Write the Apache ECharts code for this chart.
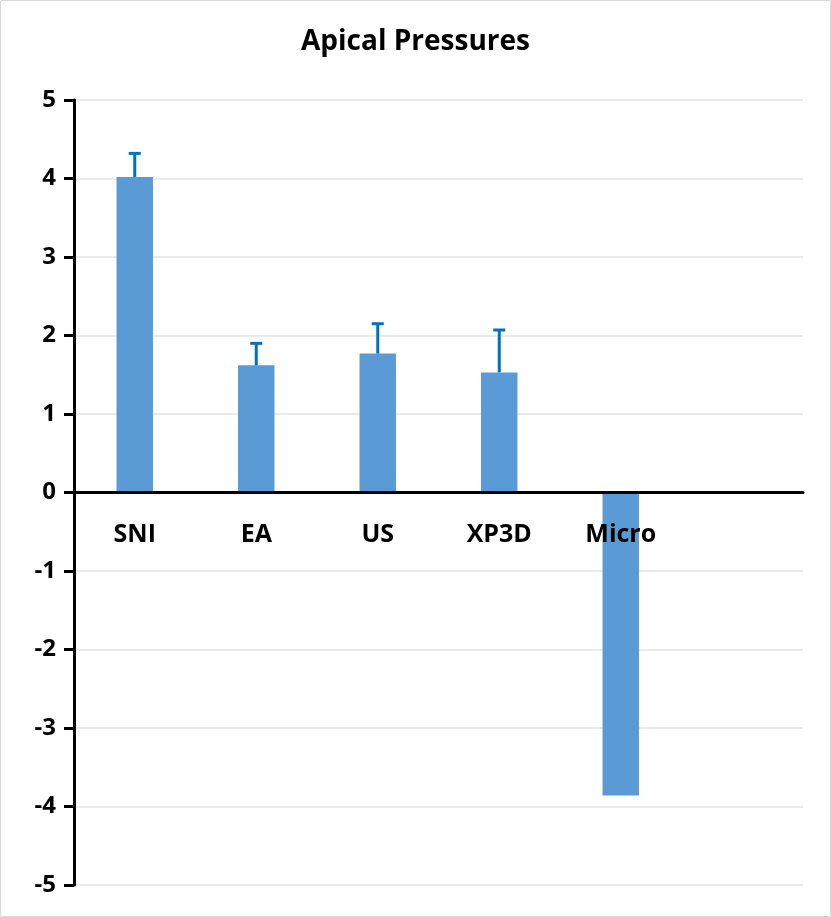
<!DOCTYPE html>
<html><head><meta charset="utf-8">
<script src="https://cdn.jsdelivr.net/npm/echarts@6/dist/echarts.min.js"></script>
<style>html,body{margin:0;padding:0;background:#fff}#c{position:absolute;left:0;top:0;width:829px;height:915px;border:1px solid #d9d9d9;border-radius:2px}</style>
</head><body><div id="c"></div>
<script>
const categories = ['SNI','EA','US','XP3D','Micro',''];
const values = [4.02, 1.62, 1.77, 1.53, -3.86, null];
const errorsUp = [0.30, 0.28, 0.38, 0.54, null, null];
const yTicks = [-5,-4,-3,-2,-1,0,1,2,3,4,5];

const chart = echarts.init(document.getElementById('c'));
const errData = categories.map((c,i)=>[i, values[i], errorsUp[i]]).filter(d=>d[1]!=null && d[2]!=null);
const font = '"Open Sans", sans-serif';
const gridTop = 99, gridBottom = 31, H = 915;
const plotH = H - gridTop - gridBottom;
const yMin = yTicks[0], yMax = yTicks[yTicks.length-1];
const zeroFromBottom = plotH * (0 - yMin) / (yMax - yMin);
chart.setOption({
  animation:false,
  title:{text:'Apical Pressures',left:'center',top:22,textStyle:{fontFamily:font,fontWeight:'bold',fontSize:28,color:'#000'}},
  grid:{left:73,right:27,top:gridTop,bottom:gridBottom,containLabel:false,outerBoundsMode:'none'},
  xAxis:[{type:'category',data:categories,position:'bottom',offset:-zeroFromBottom,z:10,
    axisLine:{onZero:false,lineStyle:{color:'#000',width:3}},
    axisTick:{show:false},
    axisLabel:{margin:30,fontFamily:font,fontWeight:'bold',fontSize:25,color:'#000'}}],
  yAxis:{type:'value',min:yMin,max:yMax,interval:1,
    axisLine:{show:true,lineStyle:{color:'#000',width:3}},
    axisTick:{show:true,length:10,lineStyle:{color:'#000',width:3}},
    splitLine:{lineStyle:{color:'#e3e3e3',width:1.5}},
    axisLabel:{margin:18,fontFamily:font,fontWeight:'bold',fontSize:24,color:'#000'}},
  series:[
    {type:'bar',data:values,barWidth:'30%',itemStyle:{color:'#5B9BD5'},z:2},
    {type:'custom',data:errData,z:3,
     renderItem:function(params,api){
       const x=api.value(0), v=api.value(1), e=api.value(2);
       const p0=api.coord([x,v]), p1=api.coord([x,v+e]);
       const st={stroke:'#0070C0',lineWidth:3};
       return {type:'group',children:[
         {type:'line',shape:{x1:p0[0],y1:p0[1],x2:p1[0],y2:p1[1]},style:st},
         {type:'line',shape:{x1:p1[0]-6,y1:p1[1],x2:p1[0]+6,y2:p1[1]},style:st}
       ]};
     }}
  ]
});
</script></body></html>
